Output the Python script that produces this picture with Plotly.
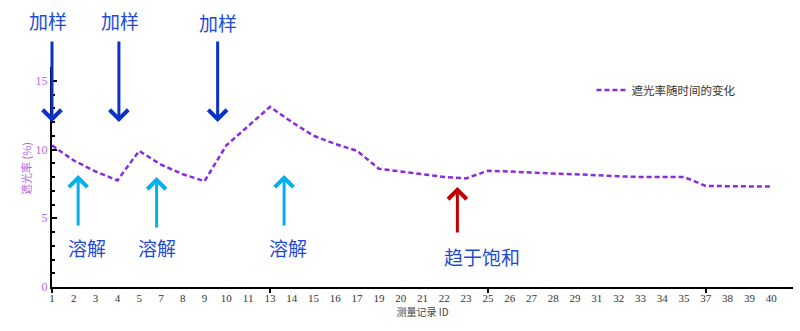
import plotly.graph_objects as go

# ---- data ----
record_ids = ["1", "2", "3", "4", "5", "7", "8", "9", "10", "11", "13", "14", "15", "16", "17",
              "19", "20", "21", "22", "23", "25", "26", "27", "28", "29", "31", "32", "33", "34",
              "35", "37", "38", "39", "40"]
shading_rate = [10.3, 9.2, 8.4, 7.75, 9.9, 8.9, 8.2, 7.7, 10.3, 11.7, 13.1, 12.0, 11.0, 10.4, 9.9,
                8.6, 8.4, 8.2, 8.0, 7.9, 8.45, 8.4, 8.3, 8.25, 8.2, 8.1, 8.05, 8.0, 8.0,
                8.0, 7.35, 7.35, 7.3, 7.3]
major_tick_ids = ["1", "13", "25", "37"]
y_major = [0, 5, 10, 15]
Y_MAX = 16

# annotation anchors (x in record index, y in axis units)
add_marks = [(0.0, 12.0), (3.07, 12.0), (7.6, 12.0)]
add_text_pos = [(0.0, 19.4, -4), (3.1, 19.4, 0), (7.6, 19.25, 0)]
dissolve_marks = [(1.2, 8.15), (4.8, 8.0), (10.65, 8.15)]
dissolve_text_pos = [(1.6, 2.9), (4.8, 2.9), (10.85, 2.9)]
sat_mark = (18.6, 7.27)
sat_text_pos = (19.75, 2.2)

idx = list(range(len(record_ids)))
major_idx = [record_ids.index(t) for t in major_tick_ids]

PURPLE = "#8a2be2"
LABEL_PURPLE = "#b36ae2"
TXT_BLUE = "#1f4ad6"
DARK_BLUE = "#0a32c8"
CYAN = "#00b0f0"
RED = "#c00000"
CJK = "Noto Sans CJK SC"

fig = go.Figure()
fig.add_trace(go.Scatter(
    x=idx, y=shading_rate, mode="lines", name="遮光率随时间的变化",
    line=dict(color=PURPLE, width=2.5, dash="5px,3px"),
))
# helper trace so the overlay axis with the major x ticks is drawn
fig.add_trace(go.Scatter(x=[0], y=[None], xaxis="x2", showlegend=False, hoverinfo="skip"))

annotations = []
for (x, y) in add_marks:
    annotations.append(dict(x=x, y=y, xref="x", yref="y", text="", showarrow=True,
                            ax=0, ay=-82, arrowhead=4, arrowsize=1.2, arrowwidth=3,
                            arrowcolor=DARK_BLUE))
for (x, y, sh) in add_text_pos:
    annotations.append(dict(x=x, y=y / Y_MAX, xref="x", yref="paper", xshift=sh,
                            text="加样", showarrow=False, xanchor="center", yanchor="middle",
                            font=dict(family=CJK, size=19, color=TXT_BLUE)))
for (x, y) in dissolve_marks:
    annotations.append(dict(x=x, y=y, xref="x", yref="y", text="", showarrow=True,
                            ax=0, ay=52, arrowhead=4, arrowsize=1.2, arrowwidth=3,
                            arrowcolor=CYAN))
for (x, y) in dissolve_text_pos:
    annotations.append(dict(x=x, y=y, xref="x", yref="y", text="溶解", showarrow=False,
                            font=dict(family=CJK, size=19, color=TXT_BLUE)))
annotations.append(dict(x=sat_mark[0], y=sat_mark[1], xref="x", yref="y", text="", showarrow=True,
                        ax=0, ay=47, arrowhead=4, arrowsize=1.2, arrowwidth=3, arrowcolor=RED))
annotations.append(dict(x=sat_text_pos[0], y=sat_text_pos[1], xref="x", yref="y", text="趋于饱和",
                        showarrow=False, font=dict(family=CJK, size=19, color=TXT_BLUE)))
# y axis title
annotations.append(dict(x=0, y=0.5, xref="paper", yref="paper", xshift=-26, yshift=8,
                        xanchor="center", yanchor="middle",
                        text="遮光率 (%)", textangle=-90, showarrow=False,
                        font=dict(family=CJK, size=11, color=LABEL_PURPLE)))

fig.update_layout(
    width=800, height=331,
    margin=dict(l=52, r=7, t=67, b=44),
    paper_bgcolor="white", plot_bgcolor="white",
    showlegend=True,
    legend=dict(x=0.728, y=0.895, xanchor="left", yanchor="middle",
                bgcolor="rgba(0,0,0,0)", itemwidth=30,
                font=dict(family=CJK, size=11.5, color="#333333")),
    xaxis=dict(range=[0, 34], tickmode="array", tickvals=idx, ticktext=record_ids,
               ticks="", showgrid=False, zeroline=False,
               showline=True, linecolor="black", linewidth=2,
               tickfont=dict(family="Liberation Serif", size=11, color="#333333"),
               title=dict(text="测量记录 ID", standoff=6,
                          font=dict(family=CJK, size=10, color="#444444"))),
    xaxis2=dict(range=[0, 34], overlaying="x", side="bottom", anchor="y",
                tickmode="array", tickvals=major_idx, ticks="outside", ticklen=5,
                tickwidth=2, tickcolor="black", showticklabels=False,
                showgrid=False, zeroline=False, showline=False),
    yaxis=dict(range=[0, Y_MAX], tickmode="array", tickvals=y_major,
               ticks="inside", ticklen=5, tickwidth=2, tickcolor="black",
               minor=dict(dtick=1, ticks="inside", ticklen=3, tickwidth=1.5, tickcolor="black"),
               showgrid=False, zeroline=False,
               showline=True, linecolor="black", linewidth=2,
               tickfont=dict(family="Liberation Serif", size=12, color=LABEL_PURPLE)),
    annotations=annotations,
)

fig.write_html("out.html")
